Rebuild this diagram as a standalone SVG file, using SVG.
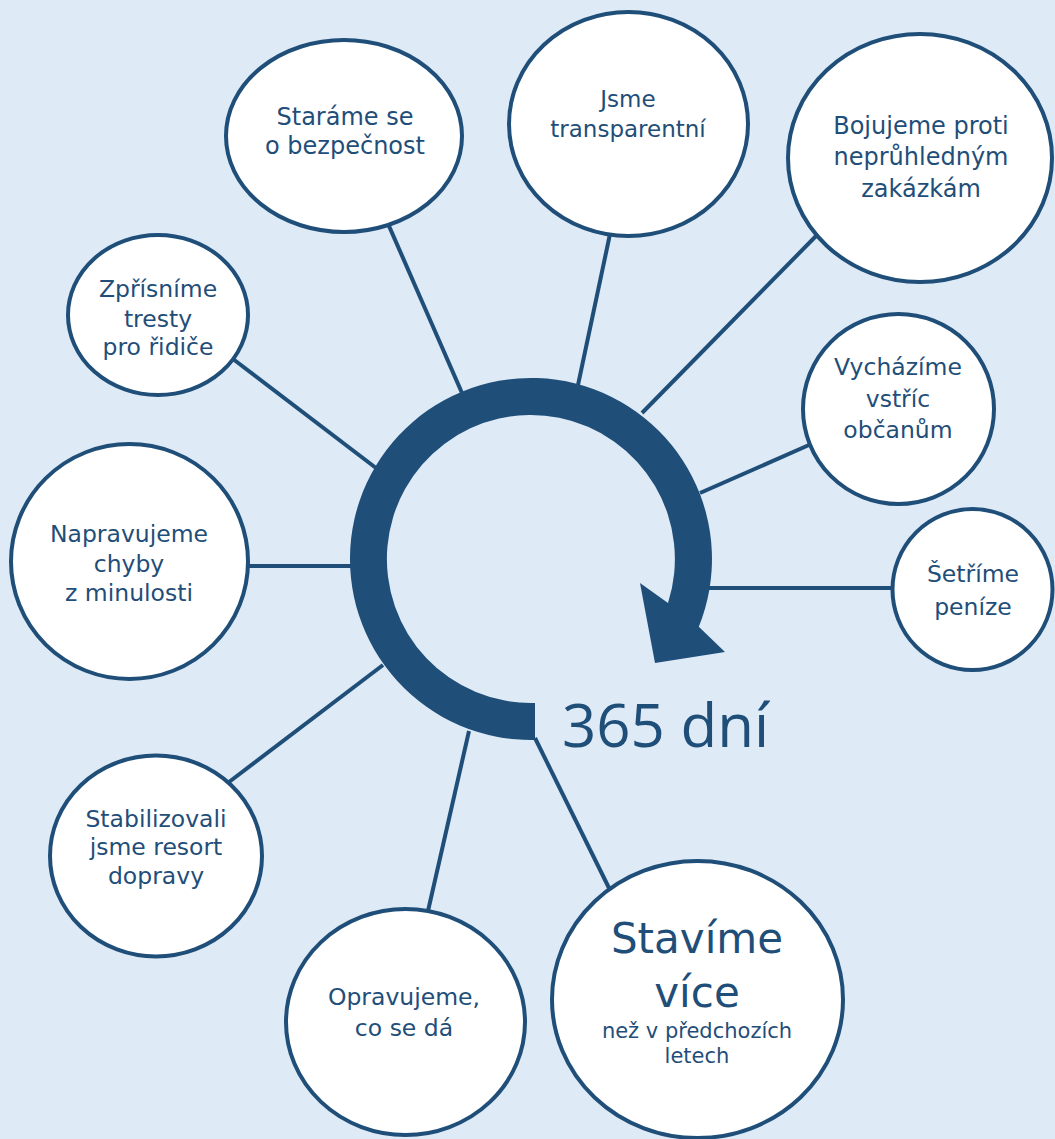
<svg xmlns="http://www.w3.org/2000/svg" width="1055" height="1139" viewBox="0 0 1055 1139">
<style>
.bg{fill:#deeaf6}
.node{fill:#ffffff;stroke:#1f4e79;stroke-width:4}
.conn{stroke:#1f4e79;stroke-width:4;fill:none}
.t{font-family:"DejaVu Sans","Verdana",sans-serif;font-size:23.5px;fill:#1f4e79;text-anchor:middle}
.big{font-family:"Open Sans","Noto Sans",sans-serif;font-size:60px;fill:#1f4e79}
</style>
<rect class="bg" x="0" y="0" width="1055" height="1139"/>
<g id="connectors">
<line class="conn" x1="462" y1="393" x2="389" y2="226"/>
<line class="conn" x1="578" y1="385" x2="610" y2="234"/>
<line class="conn" x1="642" y1="413" x2="817" y2="235"/>
<line class="conn" x1="700" y1="493" x2="809" y2="445"/>
<line class="conn" x1="705" y1="588" x2="893" y2="588"/>
<line class="conn" x1="376" y1="468" x2="233" y2="359"/>
<line class="conn" x1="352" y1="566" x2="248" y2="566"/>
<line class="conn" x1="383" y1="665" x2="229" y2="782"/>
<line class="conn" x1="469" y1="731" x2="428" y2="911"/>
<line class="conn" x1="535" y1="738" x2="609" y2="888"/>
</g>
<g id="cycle-arrow">
<path fill="#1f4e79" d="M535 739.96 A181 181 0 1 1 698.8 626.8 L725 652 L655 663 L640 583 L668 603 A144 144 0 1 0 535 702.94 Z"/>
</g>
<g id="label-365">
<text class="big" x="562" y="747">365 dní</text>
</g>
<g id="n-bezpecnost">
<ellipse class="node" cx="344" cy="136" rx="118" ry="96"/>
<text class="t" x="345" y="125" style="font-size:24px">Staráme se</text>
<text class="t" x="345" y="154" style="font-size:24px">o bezpečnost</text>
</g>
<g id="n-transparentni">
<ellipse class="node" cx="628.5" cy="124" rx="119.5" ry="112"/>
<text class="t" x="628" y="107" style="font-size:23px">Jsme</text>
<text class="t" x="628" y="137" style="font-size:23px">transparentní</text>
</g>
<g id="n-zakazky">
<ellipse class="node" cx="920" cy="158" rx="132" ry="124"/>
<text class="t" x="921" y="134" style="font-size:24px">Bojujeme proti</text>
<text class="t" x="921" y="165" style="font-size:24px">neprůhledným</text>
<text class="t" x="921" y="197" style="font-size:24px">zakázkám</text>
</g>
<g id="n-tresty">
<ellipse class="node" cx="158" cy="315" rx="90" ry="80"/>
<text class="t" x="158" y="297">Zpřísníme</text>
<text class="t" x="158" y="327">tresty</text>
<text class="t" x="158" y="355">pro řidiče</text>
</g>
<g id="n-obcane">
<ellipse class="node" cx="898.5" cy="409" rx="95.5" ry="95"/>
<text class="t" x="898" y="375">Vycházíme</text>
<text class="t" x="898" y="407">vstříc</text>
<text class="t" x="898" y="438">občanům</text>
</g>
<g id="n-penize">
<ellipse class="node" cx="972.5" cy="589.5" rx="80" ry="80.5"/>
<text class="t" x="973" y="582">Šetříme</text>
<text class="t" x="973" y="615">peníze</text>
</g>
<g id="n-chyby">
<ellipse class="node" cx="129.5" cy="561.5" rx="118.5" ry="117.5"/>
<text class="t" x="129" y="542">Napravujeme</text>
<text class="t" x="129" y="572">chyby</text>
<text class="t" x="129" y="601">z minulosti</text>
</g>
<g id="n-resort">
<ellipse class="node" cx="156" cy="856" rx="106" ry="100.5"/>
<text class="t" x="156" y="827">Stabilizovali</text>
<text class="t" x="156" y="855">jsme resort</text>
<text class="t" x="156" y="884">dopravy</text>
</g>
<g id="n-opravujeme">
<ellipse class="node" cx="405.5" cy="1022" rx="119.5" ry="113"/>
<text class="t" x="404" y="1005">Opravujeme,</text>
<text class="t" x="404" y="1036">co se dá</text>
</g>
<g id="n-stavime">
<ellipse class="node" cx="697.5" cy="999.5" rx="145.5" ry="138.5"/>
<text class="t" x="697" y="953" style="font-size:42px">Stavíme</text>
<text class="t" x="697" y="1007" style="font-size:42px">více</text>
<text class="t" x="697" y="1038" style="font-size:21px">než v předchozích</text>
<text class="t" x="697" y="1063" style="font-size:21px">letech</text>
</g>
</svg>
